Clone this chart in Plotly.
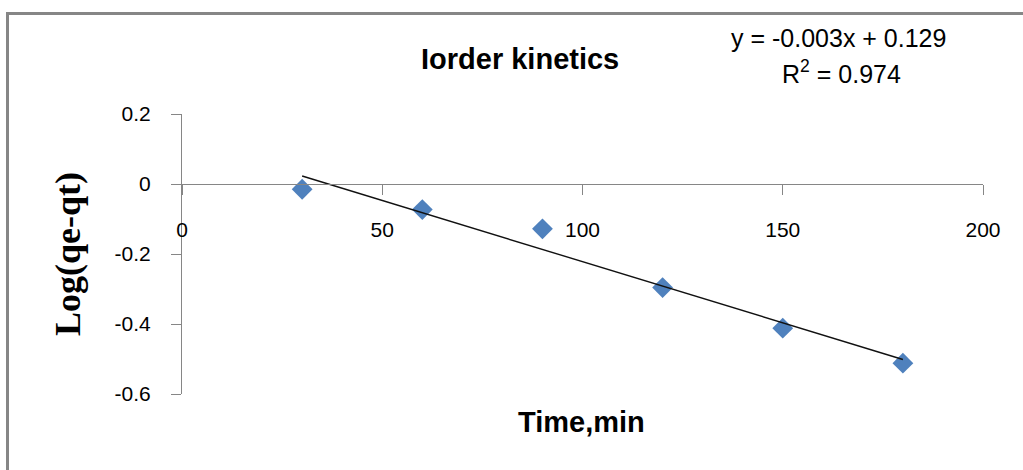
import numpy as np
import plotly.graph_objects as go

# Contact time (min) and log(qe - qt) for the first-order kinetic plot
time_min = [30, 60, 90, 120, 150, 180]
log_qe_qt = [-0.015, -0.073, -0.128, -0.296, -0.412, -0.512]

x_tick_vals = [0, 50, 100, 150, 200]
x_tick_text = ["0", "50", "100", "150", "200"]
y_tick_vals = [0.2, 0, -0.2, -0.4, -0.6]
y_tick_text = ["0.2", "0", "-0.2", "-0.4", "-0.6"]

title_text = "Iorder kinetics"
equation_text = "y = -0.003x + 0.129"
r2_text = "R<sup>2</sup> = 0.974"

# Canvas and plot-area geometry (pixels)
W, H = 1023, 470
L, R, T, B = 182, 40, 114, 76
PW, PH = W - L - R, H - T - B
X_RANGE = [0, 200]
Y_RANGE = [-0.6, 0.2]


def px(x):
    return (x - L) / PW


def py(y):
    return (H - B - y) / PH


# Linear least-squares trendline over the measured span
slope, intercept = np.polyfit(time_min, log_qe_qt, 1)
fit_x = [time_min[0], time_min[-1]]
fit_y = [slope * v + intercept for v in fit_x]

AXIS_GREY = "#868686"
MARKER_BLUE = "#4F81BD"
SANS = "Liberation Sans, Arial, sans-serif"

fig = go.Figure()
fig.add_trace(go.Scatter(
    x=time_min, y=log_qe_qt, mode="markers",
    marker=dict(symbol="diamond", size=16, color=MARKER_BLUE,
                line=dict(width=0)),
    showlegend=False, hoverinfo="skip",
))
fig.add_trace(go.Scatter(
    x=fit_x, y=fit_y, mode="lines",
    line=dict(color="#111111", width=1.4),
    showlegend=False, hoverinfo="skip",
))

tick_font = dict(family=SANS, size=21, color="#000000")

fig.update_layout(
    width=W, height=H,
    margin=dict(l=L, r=R, t=T, b=B, pad=0),
    paper_bgcolor="white", plot_bgcolor="white",
    font=dict(family=SANS, size=21, color="#000000"),
    xaxis=dict(
        range=X_RANGE, tickvals=x_tick_vals, ticktext=x_tick_text,
        anchor="free", position=(0 - Y_RANGE[0]) / (Y_RANGE[1] - Y_RANGE[0]),
        showline=True, linecolor=AXIS_GREY, linewidth=1,
        ticks="outside", ticklen=10, tickcolor=AXIS_GREY, tickwidth=1,
        ticklabelstandoff=17,
        showgrid=False, zeroline=False, tickfont=tick_font,
    ),
    yaxis=dict(
        range=Y_RANGE, tickvals=y_tick_vals, ticktext=y_tick_text,
        showline=True, linecolor=AXIS_GREY, linewidth=1,
        ticks="outside", ticklen=10, tickcolor=AXIS_GREY, tickwidth=1,
        ticklabelstandoff=16,
        showgrid=False, zeroline=False, tickfont=tick_font,
    ),
    shapes=[dict(
        type="rect", xref="paper", yref="paper",
        x0=px(7.5), y0=py(490), x1=px(1040), y1=py(13.5),
        line=dict(color=AXIS_GREY, width=3), fillcolor="rgba(0,0,0,0)",
        layer="below",
    )],
    annotations=[
        dict(text=title_text, xref="paper", yref="paper",
             x=px(520), y=py(59), showarrow=False,
             xanchor="center", yanchor="middle",
             font=dict(family=SANS, size=29, color="#000000", weight="bold")),
        dict(text=equation_text, xref="paper", yref="paper",
             x=px(838), y=py(38), showarrow=False,
             xanchor="center", yanchor="middle",
             font=dict(family=SANS, size=25, color="#000000")),
        dict(text=r2_text, xref="paper", yref="paper",
             x=px(841), y=py(72), showarrow=False,
             xanchor="center", yanchor="middle",
             font=dict(family=SANS, size=25, color="#000000")),
        dict(text="Log(qe-qt)", xref="paper", yref="paper",
             x=px(68), y=py(254), showarrow=False, textangle=-90,
             xanchor="center", yanchor="middle",
             font=dict(family="Liberation Serif, Times New Roman, serif", size=36,
                       color="#000000", weight="bold")),
        dict(text="Time,min", xref="paper", yref="paper",
             x=px(581), y=py(422), showarrow=False,
             xanchor="center", yanchor="middle",
             font=dict(family=SANS, size=29, color="#000000", weight="bold")),
    ],
)

fig.write_html("out.html")
